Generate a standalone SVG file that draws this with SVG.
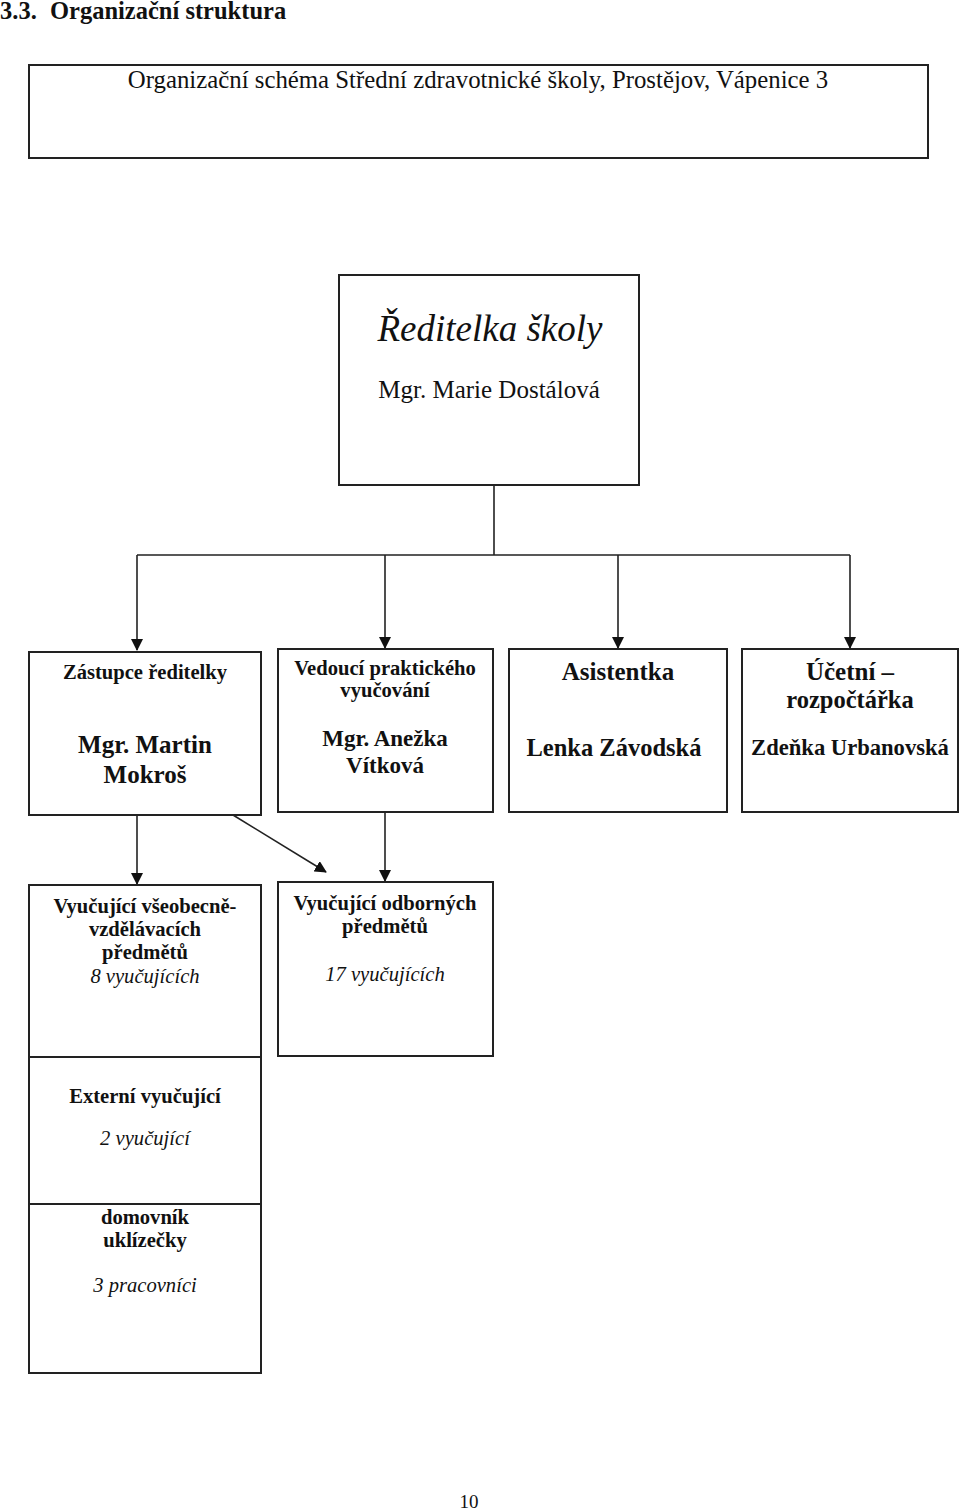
<svg xmlns="http://www.w3.org/2000/svg" width="960" height="1511" viewBox="0 0 960 1511">
<style>
.box{fill:#fff;stroke:#222;stroke-width:2}
.ln{fill:none;stroke:#222;stroke-width:1.6}
text{font-family:"Liberation Serif","Times New Roman",serif;fill:#111;text-anchor:middle}
.b{font-weight:bold}
.i{font-style:italic}
.s{font-size:20.6px}
</style>
<defs>
<marker id="ah" markerWidth="12" markerHeight="12" viewBox="0 0 12 12" refX="11" refY="6" orient="auto" markerUnits="userSpaceOnUse">
<path d="M0,0 L12,6 L0,12 Z" fill="#111"/>
</marker>
</defs>
<rect width="960" height="1511" fill="#fff"/>
<g id="heading">
<text x="0" y="19" class="b" font-size="24.5" style="text-anchor:start">3.3.</text>
<text x="50" y="19" class="b" font-size="24.5" style="text-anchor:start">Organizační struktura</text>
</g>
<g id="title">
<rect class="box" x="29" y="65" width="899" height="93"/>
<text x="478" y="88" font-size="24.8">Organizační schéma Střední zdravotnické školy, Prostějov, Vápenice 3</text>
</g>
<g id="connectors">
<path class="ln" d="M494,485 V555 M137,555 H850"/>
<path class="ln" d="M137,555 V650" marker-end="url(#ah)"/>
<path class="ln" d="M385,555 V648" marker-end="url(#ah)"/>
<path class="ln" d="M618,555 V648" marker-end="url(#ah)"/>
<path class="ln" d="M850,555 V648" marker-end="url(#ah)"/>
<path class="ln" d="M137,815 V884" marker-end="url(#ah)"/>
<path class="ln" d="M233,815 L326,872" marker-end="url(#ah)"/>
<path class="ln" d="M385,812 V881" marker-end="url(#ah)"/>
</g>
<g id="reditelka">
<rect class="box" x="339" y="275" width="300" height="210"/>
<text x="490" y="341" class="i" font-size="37">Ředitelka školy</text>
<text x="489" y="398" font-size="25">Mgr. Marie Dostálová</text>
</g>
<g id="zastupce">
<rect class="box" x="29" y="652" width="232" height="163"/>
<text x="145" y="679" class="b s">Zástupce ředitelky</text>
<text x="145" y="753" class="b" font-size="25">Mgr. Martin</text>
<text x="145" y="783" class="b" font-size="25">Mokroš</text>
</g>
<g id="vedouci">
<rect class="box" x="278" y="649" width="215" height="163"/>
<text x="385" y="675" class="b s">Vedoucí praktického</text>
<text x="385" y="697" class="b s">vyučování</text>
<text x="385" y="746" class="b" font-size="23">Mgr. Anežka</text>
<text x="385" y="773" class="b" font-size="23">Vítková</text>
</g>
<g id="asistentka">
<rect class="box" x="509" y="649" width="218" height="163"/>
<text x="618" y="680" class="b" font-size="25">Asistentka</text>
<text x="614" y="756" class="b" font-size="24.5">Lenka Závodská</text>
</g>
<g id="ucetni">
<rect class="box" x="742" y="649" width="216" height="163"/>
<text x="850" y="680" class="b" font-size="25">Účetní –</text>
<text x="850" y="708" class="b" font-size="24.5">rozpočtářka</text>
<text x="850" y="755" class="b" font-size="22.6">Zdeňka Urbanovská</text>
</g>
<g id="vseobecne">
<rect class="box" x="29" y="885" width="232" height="172"/>
<text x="145" y="913" class="b s">Vyučující všeobecně-</text>
<text x="145" y="936" class="b s">vzdělávacích</text>
<text x="145" y="959" class="b s">předmětů</text>
<text x="145" y="983" class="i s">8 vyučujících</text>
</g>
<g id="odborne">
<rect class="box" x="278" y="882" width="215" height="174"/>
<text x="385" y="910" class="b s">Vyučující odborných</text>
<text x="385" y="933" class="b s">předmětů</text>
<text x="385" y="981" class="i s">17 vyučujících</text>
</g>
<g id="externi">
<rect class="box" x="29" y="1057" width="232" height="147"/>
<text x="145" y="1103" class="b s">Externí vyučující</text>
<text x="145" y="1145" class="i s">2 vyučující</text>
</g>
<g id="domovnik">
<rect class="box" x="29" y="1204" width="232" height="169"/>
<text x="145" y="1224" class="b s">domovník</text>
<text x="145" y="1247" class="b s">uklízečky</text>
<text x="145" y="1292" class="i s">3 pracovníci</text>
</g>
<text x="469" y="1508" font-size="19">10</text>
</svg>
